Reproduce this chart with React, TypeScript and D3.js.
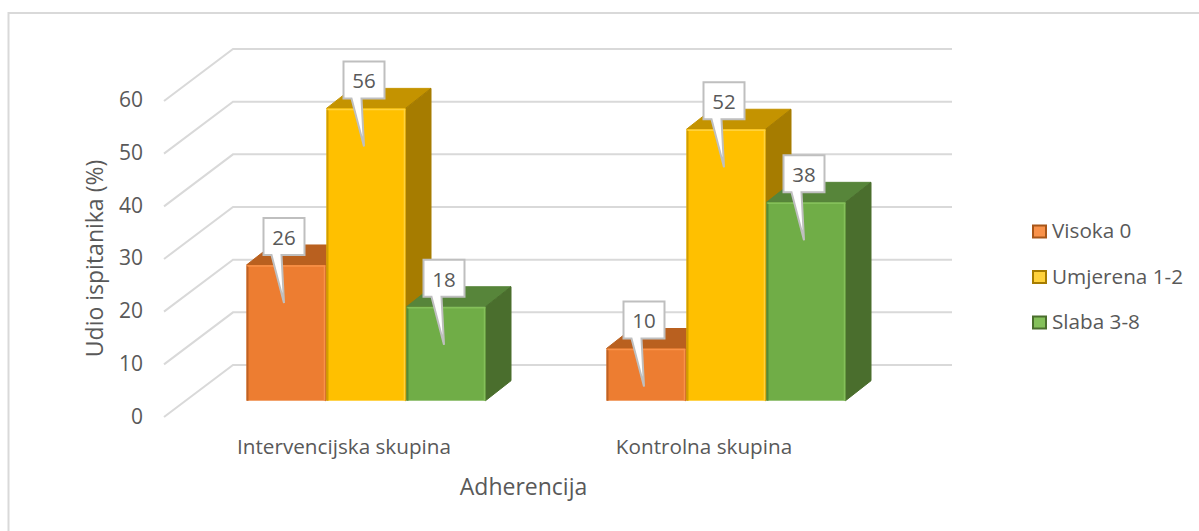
import { useEffect, useRef } from "react";
import * as d3 from "d3";

const categories = ["Intervencijska skupina", "Kontrolna skupina"];
const seriesNames = ["Visoka 0", "Umjerena 1-2", "Slaba 3-8"];
const visoka = [26, 10];
const umjerena = [56, 52];
const slaba = [18, 38];
const seriesValues = [visoka, umjerena, slaba];
const yTicks = [0, 10, 20, 30, 40, 50, 60];

const frontColors = ["#ED7D31", "#FFC000", "#70AD47"];
const topColors = ["#B9601F", "#C49300", "#57853A"];
const sideColors = ["#A85619", "#A67C00", "#4A6E2D"];
const edgeLight = ["#F9924A", "#FFD23C", "#84C05A"];
const edgeDark = ["#BE6224", "#D19E00", "#568A36"];

const font = "'Open Sans', sans-serif";
const textColor = "#595959";

export default function App() {
  const ref = useRef<SVGSVGElement>(null);

  useEffect(() => {
    const svg = d3.select(ref.current);
    svg.selectAll("*").remove();

    // chart frame, only top and left are visible
    svg.append("path")
      .attr("d", "M8.5,531V13H1199")
      .attr("fill", "none")
      .attr("stroke", "#d9d9d9")
      .attr("stroke-width", 2);

    // value scales: back wall for the grid, front plane for the bars
    const yGrid = d3.scaleLinear().domain([0, 60]).range([365, 49]);
    const yBar = d3.scaleLinear().domain([0, 60]).range([400.7, 87.5]);
    const yLabel = d3.scaleLinear().domain([0, 60]).range([416, 99.5]);

    const x0 = d3.scaleBand().domain(categories).range([186.5, 906.5]);
    const x1 = d3.scaleBand().domain(seriesNames).range([60.5, 300.5]);

    const wallDx = 69;
    const wallDy = 52;
    const depthX = 25.5;
    const depthY = 20;

    // gridlines with floor/side wall segment
    const grid = svg.append("g");
    yTicks.forEach((t) => {
      const y = yGrid(t);
      grid.append("polyline")
        .attr("points", `${233 - wallDx},${y + wallDy} 233,${y} 952,${y}`)
        .attr("fill", "none")
        .attr("stroke", "#d9d9d9")
        .attr("stroke-width", 2);
    });

    // tick labels
    svg.append("g")
      .selectAll("text")
      .data(yTicks)
      .join("text")
      .attr("x", 143)
      .attr("y", (d) => yLabel(d))
      .attr("dy", "0.36em")
      .attr("text-anchor", "end")
      .attr("font-family", font)
      .attr("font-size", 21)
      .attr("fill", textColor)
      .text((d) => d);

    // bars
    const bars = svg.append("g");
    const barWidth = x1.bandwidth() - 1;
    const labels: { cx: number; top: number; value: number }[] = [];

    categories.forEach((cat, c) => {
      seriesNames.forEach((name, s) => {
        const v = seriesValues[s][c];
        const left = (x0(cat) as number) + (x1(name) as number) - 0.5;
        const right = left + barWidth;
        const top = yBar(v);
        const bottom = yBar(0);

        bars.append("polygon")
          .attr("points", `${left},${top} ${right},${top} ${right + depthX},${top - depthY} ${left + depthX},${top - depthY}`)
          .attr("fill", topColors[s])
          .attr("stroke", topColors[s])
          .attr("stroke-linejoin", "round");
        bars.append("polygon")
          .attr("points", `${right},${top} ${right + depthX},${top - depthY} ${right + depthX},${bottom - depthY} ${right},${bottom}`)
          .attr("fill", sideColors[s])
          .attr("stroke", sideColors[s])
          .attr("stroke-linejoin", "round");
        bars.append("rect")
          .attr("x", left)
          .attr("y", top)
          .attr("width", barWidth)
          .attr("height", bottom - top)
          .attr("fill", frontColors[s]);
        // bevel edges
        bars.append("path")
          .attr("d", `M${left + 1},${bottom}V${top + 1}`)
          .attr("stroke", edgeDark[s])
          .attr("stroke-width", 2)
          .attr("fill", "none");
        bars.append("path")
          .attr("d", `M${left + 1},${top + 1}H${right}M${right - 1},${top + 1}V${bottom}`)
          .attr("stroke", edgeLight[s])
          .attr("stroke-width", 1.5)
          .attr("fill", "none");

        labels.push({ cx: left + barWidth / 2 - 2, top, value: v });
      });
    });

    // callout data labels
    const boxW = 41;
    const boxH = 37;
    const callouts = svg.append("g");
    labels.forEach((l) => {
      const bx = l.cx - boxW / 2;
      const by = l.top - 47;
      const p = d3.path();
      p.moveTo(bx, by);
      p.lineTo(bx + boxW, by);
      p.lineTo(bx + boxW, by + boxH);
      p.lineTo(bx + 18, by + boxH);
      p.lineTo(l.cx, l.top + 38);
      p.lineTo(bx + 8, by + boxH);
      p.lineTo(bx, by + boxH);
      p.closePath();
      callouts.append("path")
        .attr("d", p.toString())
        .attr("fill", "#fff")
        .attr("stroke", "#bfbfbf")
        .attr("stroke-width", 2);
      callouts.append("text")
        .attr("x", l.cx)
        .attr("y", by + boxH / 2 + 1)
        .attr("dy", "0.36em")
        .attr("text-anchor", "middle")
        .attr("font-family", font)
        .attr("font-size", 20.5)
        .attr("fill", textColor)
        .text(l.value);
    });

    // category labels
    svg.append("g")
      .selectAll("text")
      .data(categories)
      .join("text")
      .attr("x", (d) => (x0(d) as number) + x0.bandwidth() / 2 - 22.5)
      .attr("y", 447)
      .attr("dy", "0.36em")
      .attr("text-anchor", "middle")
      .attr("font-family", font)
      .attr("font-size", 20.7)
      .attr("fill", textColor)
      .text((d) => d);

    // axis titles
    svg.append("text")
      .attr("transform", "translate(95,258.5) rotate(-90)")
      .attr("dy", "0.36em")
      .attr("text-anchor", "middle")
      .attr("font-family", font)
      .attr("font-size", 23)
      .attr("fill", textColor)
      .text("Udio ispitanika (%)");
    svg.append("text")
      .attr("x", 523.5)
      .attr("y", 487)
      .attr("dy", "0.36em")
      .attr("text-anchor", "middle")
      .attr("font-family", font)
      .attr("font-size", 23)
      .attr("fill", textColor)
      .text("Adherencija");

    // legend
    const yLegend = d3.scalePoint().domain(seriesNames).range([231, 322]);
    seriesNames.forEach((name, s) => {
      const y = yLegend(name) as number;
      svg.append("rect")
        .attr("x", 1033)
        .attr("y", y - 5.5)
        .attr("width", 13)
        .attr("height", 12)
        .attr("fill", edgeLight[s])
        .attr("stroke", sideColors[s])
        .attr("stroke-width", 2);
      svg.append("text")
        .attr("x", 1052)
        .attr("y", y)
        .attr("dy", "0.36em")
        .attr("font-family", font)
        .attr("font-size", 20.7)
        .attr("fill", textColor)
        .text(name);
    });
  }, []);

  return (
    <svg
      ref={ref}
      width={1199}
      height={531}
      style={{ position: "absolute", left: 0, top: 0, background: "#fff" }}
    />
  );
}
